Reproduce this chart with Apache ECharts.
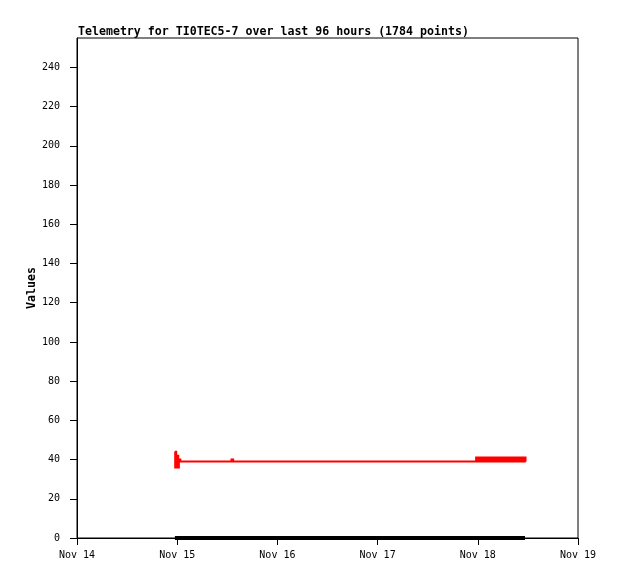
<!DOCTYPE html>
<html>
<head>
<meta charset="utf-8">
<script src="https://cdn.jsdelivr.net/npm/echarts@6/dist/echarts.min.js"></script>
<style>html,body{margin:0;padding:0;background:#fff}#c{width:618px;height:579px}</style>
</head>
<body>
<div id="c"></div>
<script>
// x values are hours since Nov 14 00:00
var xTickLabels = ['Nov 14', 'Nov 15', 'Nov 16', 'Nov 17', 'Nov 18', 'Nov 19'];
var yTicks = [0, 20, 40, 60, 80, 100, 120, 140, 160, 180, 200, 220, 240];

var redHours = [23.40, 23.52, 23.64, 23.76, 23.90, 24.02, 24.14, 24.26, 24.40, 24.52, 24.64, 24.76, 24.90,
  30.0, 37.0, 37.4, 48.0, 60.0, 72.0, 84.0, 95.5,
  95.6, 95.77, 95.93, 96.1, 96.27, 96.43, 96.6, 96.77, 96.93, 97.1, 97.27, 97.43,
  97.6, 97.77, 97.93, 98.1, 98.27, 98.43, 98.6, 98.77, 98.93, 99.1, 99.27, 99.43,
  99.6, 99.77, 99.93, 100.1, 100.27, 100.43, 100.6, 100.77, 100.93, 101.1, 101.27, 101.43,
  101.6, 101.77, 101.93, 102.1, 102.27, 102.43, 102.6, 102.77, 102.93, 103.1, 103.27, 103.43,
  103.6, 103.77, 103.93, 104.1, 104.27, 104.43, 104.6, 104.77, 104.93, 105.1, 105.27, 105.43,
  105.6, 105.77, 105.93, 106.1, 106.27, 106.43, 106.6, 106.77, 106.93, 107.1, 107.27, 107.43, 107.5];
var redValues = [44, 36, 44, 36, 42, 36, 42, 36, 40, 39, 40, 39, 39,
  39, 40, 39, 39, 39, 39, 39, 39,
  41, 39, 41, 39, 41, 39, 41, 39, 41, 39, 41, 39,
  41, 39, 41, 39, 41, 39, 41, 39, 41, 39, 41, 39,
  41, 39, 41, 39, 41, 39, 41, 39, 41, 39, 41, 39,
  41, 39, 41, 39, 41, 39, 41, 39, 41, 39, 41, 39,
  41, 39, 41, 39, 41, 39, 41, 39, 41, 39, 41, 39,
  41, 39, 41, 39, 41, 39, 41, 39, 41, 39, 41, 39, 39];

var blackHours = [23.45, 60.0, 107.3];
var blackValues = [0, 0, 0];

function pairs(xs, ys) { return xs.map(function (x, i) { return [x, ys[i]]; }); }

var font = 'DejaVu Sans Mono, Liberation Mono, monospace';
var chart = echarts.init(document.getElementById('c'), null, {renderer: 'canvas'});

// Step polyline drawn through the axes' scales (api.coord), without point merging
function renderStep(params, api) {
  if (params.dataIndex !== 0) return null;
  var pts = [api.coord([redHours[0], redValues[0]])];
  for (var i = 1; i < redHours.length; i++) {
    pts.push(api.coord([redHours[i], redValues[i - 1]]));
    pts.push(api.coord([redHours[i], redValues[i]]));
  }
  return {
    type: 'polyline',
    shape: {points: pts},
    style: {stroke: '#ff0000', lineWidth: 2, fill: null, lineJoin: 'miter', lineCap: 'butt'},
    silent: true
  };
}

chart.setOption({
  animation: false,
  backgroundColor: '#fff',
  title: {
    text: 'Telemetry for TI0TEC5-7 over last 96 hours (1784 points)',
    left: 73, top: 21,
    textStyle: {fontFamily: font, fontSize: 11.6, fontWeight: 'bold', color: '#000'}
  },
  grid: {left: 77, top: 38, right: 40, bottom: 41, show: true, borderColor: '#000', borderWidth: 1, backgroundColor: 'transparent'},
  xAxis: {
    type: 'value', min: 0, max: 120, interval: 24,
    axisLine: {show: true, onZero: false, lineStyle: {color: '#000', width: 1}},
    axisTick: {show: true, length: 7, lineStyle: {color: '#000'}},
    splitLine: {show: false},
    axisLabel: {
      color: '#000', fontFamily: font, fontSize: 10, margin: 12,
      formatter: function (v) { return xTickLabels[Math.round(v / 24)] || ''; }
    }
  },
  yAxis: {
    type: 'value', min: 0, max: 255, interval: 20,
    name: 'Values', nameLocation: 'middle', nameGap: 39, nameRotate: 90, nameMoveOverlap: false,
    nameTextStyle: {fontFamily: font, fontSize: 11.6, fontWeight: 'bold', color: '#000'},
    axisLine: {show: true, lineStyle: {color: '#000', width: 1}},
    axisTick: {show: true, length: 7, lineStyle: {color: '#000'}, customValues: yTicks},
    splitLine: {show: false},
    axisLabel: {color: '#000', fontFamily: font, fontSize: 10, margin: 17, customValues: yTicks}
  },
  series: [
    {type: 'line', data: pairs(blackHours, blackValues), showSymbol: false, symbol: 'none',
     lineStyle: {color: '#000', width: 4}, clip: true, z: 3},
    {type: 'custom', renderItem: renderStep, data: pairs(redHours, redValues),
     encode: {x: 0, y: 1}, clip: true, z: 4}
  ]
});
</script>
</body>
</html>
